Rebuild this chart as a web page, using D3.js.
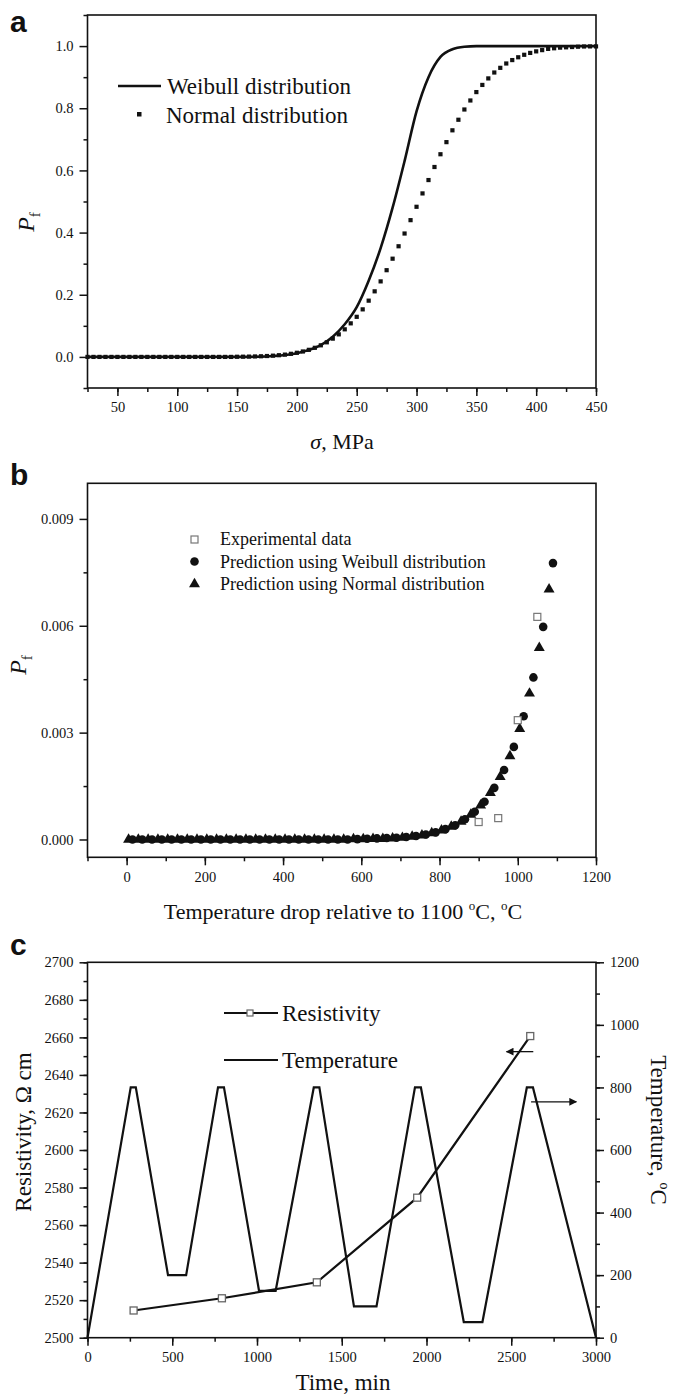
<!DOCTYPE html>
<html>
<head>
<meta charset="utf-8">
<script src="https://cdn.jsdelivr.net/npm/d3@7"></script>
<style>
  body { margin: 0; background: #fff; }
  text { font-family: "Liberation Serif", "Times New Roman", serif; fill: #111; }
  .panel-letter { font-family: "Liberation Sans", Arial, sans-serif; font-weight: bold; font-size: 30px; }
</style>
</head>
<body>
<svg id="fig" width="675" height="1396"></svg>
<script>
// ---- panel a: failure probability vs stress
const sigmaWeibull = [25, 150, 170, 180, 190, 200, 210, 220, 230, 240, 250, 260, 270, 280, 290, 300, 310, 320, 330, 340, 350, 360, 450]
const pfWeibull    = [0, 0, 0.001, 0.003, 0.006, 0.012, 0.022, 0.038, 0.065, 0.105, 0.16, 0.245, 0.35, 0.48, 0.63, 0.79, 0.90, 0.965, 0.99, 0.998, 1.0, 1.0, 1.0]

const sigmaNormal = [25, 30, 35, 40, 45, 50, 55, 60, 65, 70, 75, 80, 85, 90, 95, 100, 105, 110, 115, 120, 125, 130, 135, 140, 145,
  150, 155, 160, 165, 170, 175, 180, 185, 190, 195, 200, 205, 210, 215, 220, 225, 230, 235, 240, 245, 250, 255, 260, 265, 270, 275,
  280, 285, 290, 295, 300, 305, 310, 315, 320, 325, 330, 335, 340, 345, 350, 355, 360, 365, 370, 375, 380, 385, 390, 395, 400,
  405, 410, 415, 420, 425, 430, 435, 440, 445, 450]
const pfNormal = [0, 0, 0, 0, 0, 0, 0, 0, 0, 0, 0, 0, 0, 0, 0, 0, 0, 0, 0, 0, 0, 0, 0, 0, 0,
  0.0005, 0.0007, 0.001, 0.0015, 0.0021, 0.0029, 0.004, 0.0055, 0.0074, 0.010, 0.0133, 0.0175, 0.0228, 0.0293, 0.0373, 0.047,
  0.0588, 0.0726, 0.0888, 0.108, 0.129, 0.153, 0.181, 0.211, 0.243, 0.279, 0.316, 0.356, 0.397, 0.440, 0.483, 0.526, 0.569,
  0.611, 0.652, 0.691, 0.729, 0.763, 0.796, 0.825, 0.852, 0.875, 0.896, 0.915, 0.930, 0.944, 0.955, 0.964, 0.972, 0.978,
  0.983, 0.987, 0.991, 0.993, 0.995, 0.996, 0.997, 0.998, 0.9987, 0.999, 0.999]

// ---- panel b: Pf vs temperature drop
const dropExp = [900, 950, 1000, 1050]
const pfExp   = [0.00049, 0.0006, 0.00335, 0.00625]

const dropWeibull = [15, 40, 65, 90, 115, 140, 165, 190, 215, 240, 265, 290, 315, 340, 365, 390, 415, 440, 465, 490, 515, 540, 565,
  590, 615, 640, 665, 690, 715, 740, 765, 790, 815, 840, 865, 890, 915, 940, 965, 990, 1015, 1040, 1065, 1090]
const pfPredWeibull = [0, 0, 0, 0, 0, 0, 0, 0, 0, 0, 0, 0, 0, 0, 0, 0, 0, 0, 0, 0, 0, 0, 0,
  0.00001, 0.00002, 0.00003, 0.00004, 0.00005, 0.00007, 0.0001, 0.00014, 0.0002, 0.00029, 0.0004, 0.00057, 0.00078,
  0.00106, 0.00145, 0.00195, 0.0026, 0.00346, 0.00455, 0.00597, 0.00776]

const dropNormal = [5, 30, 55, 80, 105, 130, 155, 180, 205, 230, 255, 280, 305, 330, 355, 380, 405, 430, 455, 480, 505, 530, 555,
  580, 605, 630, 655, 680, 705, 730, 755, 780, 805, 830, 855, 880, 905, 930, 955, 980, 1005, 1030, 1055, 1080]
const pfPredNormal = [0, 0, 0, 0, 0, 0, 0, 0, 0, 0, 0, 0, 0, 0, 0, 0, 0, 0, 0, 0, 0, 0, 0,
  0.00001, 0.00001, 0.00002, 0.00002, 0.00003, 0.00005, 0.00008, 0.00012, 0.00018, 0.00026, 0.00036, 0.0005, 0.0007,
  0.00096, 0.00131, 0.00176, 0.00234, 0.00311, 0.0041, 0.00538, 0.00702]

// ---- panel c: resistivity and temperature vs time
const timeRes = [272, 793, 1353, 1945, 2612]
const resistivity = [2514.5, 2521, 2529.5, 2574.6, 2660.7]

const timeTemp = [0, 255, 285, 475, 582, 770, 805, 1012, 1110, 1335, 1368, 1572, 1705, 1932, 1967, 2220, 2330, 2592, 2628, 3000]
const temperature = [0, 800, 800, 200, 200, 800, 800, 150, 150, 800, 800, 100, 100, 800, 800, 50, 50, 800, 800, 0]

const svg = d3.select('#fig')
const ink = '#111'
const serif = '"Liberation Serif", "Times New Roman", serif'

function frame(x, y) {
  svg.append('rect')
    .attr('x', x.range()[0]).attr('y', y.range()[1])
    .attr('width', x.range()[1] - x.range()[0])
    .attr('height', y.range()[0] - y.range()[1])
    .attr('fill', 'none').attr('stroke', ink).attr('stroke-width', 1.6)
}

function axis(gen, pos, major, minor, fmt) {
  let g = svg.append('g').attr('transform', pos)
  g.call(gen.tickValues(minor).tickSize(4).tickFormat(''))
  g.selectAll('.domain').remove()
  let g2 = svg.append('g').attr('transform', pos)
  g2.call(gen.tickValues(major).tickSize(8).tickPadding(6).tickFormat(fmt))
  g2.selectAll('.domain').remove()
  g2.attr('font-family', serif).attr('font-size', 14.5)
  g2.selectAll('.tick text').style('font-family', serif).style('font-size', '14.5px').attr('fill', ink)
  svg.selectAll('.tick line').attr('stroke', ink).attr('stroke-width', 1.5)
  return g2
}

function pfLabel(cx, cy) {
  let t = svg.append('text')
    .attr('transform', `translate(${cx},${cy}) rotate(-90)`)
    .attr('text-anchor', 'middle')
    .style('font-size', '24px')
  t.append('tspan').style('font-style', 'italic').text('P')
  t.append('tspan').attr('dy', 6).style('font-size', '15px').text('f')
}

// ================= panel a =================
let xa = d3.scaleLinear().domain([25, 450]).range([87.5, 596])
let ya = d3.scaleLinear().domain([-0.1, 1.1]).range([388, 15])

axis(d3.axisBottom(xa), `translate(0,${ya.range()[0]})`, d3.range(50, 451, 50), d3.range(25, 451, 25), d3.format('d'))
axis(d3.axisLeft(ya), `translate(${xa.range()[0]},0)`, [0, 0.2, 0.4, 0.6, 0.8, 1.0], [-0.1, 0.1, 0.3, 0.5, 0.7, 0.9, 1.1], d3.format('.1f'))
frame(xa, ya)

let weibullA = sigmaWeibull.map((s, i) => [s, pfWeibull[i]])
svg.append('path')
  .datum(weibullA)
  .attr('fill', 'none').attr('stroke', ink).attr('stroke-width', 2.6)
  .attr('d', d3.line().x(d => xa(d[0])).y(d => ya(d[1])).curve(d3.curveMonotoneX))

svg.append('g').selectAll('rect')
  .data(sigmaNormal.map((s, i) => [s, pfNormal[i]]))
  .join('rect')
  .attr('x', d => xa(d[0]) - 2.1).attr('y', d => ya(d[1]) - 2.1)
  .attr('width', 4.2).attr('height', 4.2).attr('fill', ink)

// legend a
svg.append('line').attr('x1', 118).attr('x2', 161).attr('y1', 86).attr('y2', 86)
  .attr('stroke', ink).attr('stroke-width', 2.6)
svg.append('text').attr('x', 167).attr('y', 94).style('font-size', '23px').text('Weibull distribution')
svg.append('rect').attr('x', 137).attr('y', 112).attr('width', 4.5).attr('height', 4.5).attr('fill', ink)
svg.append('text').attr('x', 166).attr('y', 123).style('font-size', '23px').text('Normal distribution')

pfLabel(34, 222)
let xlabA = svg.append('text').attr('x', 342).attr('y', 449).attr('text-anchor', 'middle').style('font-size', '22px')
xlabA.append('tspan').style('font-style', 'italic').text('σ')
xlabA.append('tspan').text(', MPa')
svg.append('text').attr('class', 'panel-letter').attr('x', 10).attr('y', 32).text('a')

// ================= panel b =================
let xb = d3.scaleLinear().domain([-100, 1200]).range([87.5, 596])
let yb = d3.scaleLinear().domain([-0.0005, 0.010]).range([857.3, 483.3])

axis(d3.axisBottom(xb), `translate(0,${yb.range()[0]})`, d3.range(0, 1201, 200), d3.range(-100, 1201, 100), d3.format('d'))
axis(d3.axisLeft(yb), `translate(${xb.range()[0]},0)`, [0, 0.003, 0.006, 0.009], [0.0015, 0.0045, 0.0075], d3.format('.3f'))
frame(xb, yb)

let triangle = d3.symbol().type(d3.symbolTriangle).size(52)
svg.append('g').selectAll('path')
  .data(dropNormal.map((t, i) => [t, pfPredNormal[i]]))
  .join('path')
  .attr('transform', d => `translate(${xb(d[0])},${yb(d[1])})`)
  .attr('d', triangle).attr('fill', ink)

svg.append('g').selectAll('circle')
  .data(dropWeibull.map((t, i) => [t, pfPredWeibull[i]]))
  .join('circle')
  .attr('cx', d => xb(d[0])).attr('cy', d => yb(d[1])).attr('r', 4.3).attr('fill', ink)

svg.append('g').selectAll('rect')
  .data(dropExp.map((t, i) => [t, pfExp[i]]))
  .join('rect')
  .attr('x', d => xb(d[0]) - 3.5).attr('y', d => yb(d[1]) - 3.5)
  .attr('width', 7).attr('height', 7)
  .attr('fill', '#fff').attr('stroke', '#777').attr('stroke-width', 1.2)

// legend b
svg.append('rect').attr('x', 191).attr('y', 536).attr('width', 7).attr('height', 7)
  .attr('fill', '#fff').attr('stroke', '#777').attr('stroke-width', 1.2)
svg.append('circle').attr('cx', 194.5).attr('cy', 561.5).attr('r', 4.3).attr('fill', ink)
svg.append('path').attr('transform', 'translate(194.5,584)').attr('d', triangle).attr('fill', ink)
let legB = ['Experimental data', 'Prediction using Weibull distribution', 'Prediction using Normal distribution']
legB.forEach((s, i) => {
  svg.append('text').attr('x', 220).attr('y', 545 + i * 22.6).style('font-size', '18px').text(s)
})

pfLabel(26, 665)
let xlabB = svg.append('text').attr('x', 343).attr('y', 919).attr('text-anchor', 'middle').style('font-size', '22px')
xlabB.append('tspan').text('Temperature drop relative to 1100 ')
xlabB.append('tspan').attr('dy', -9).style('font-size', '13px').text('o')
xlabB.append('tspan').attr('dy', 9).text('C, ')
xlabB.append('tspan').attr('dy', -9).style('font-size', '13px').text('o')
xlabB.append('tspan').attr('dy', 9).text('C')
svg.append('text').attr('class', 'panel-letter').attr('x', 10).attr('y', 485).text('b')

// ================= panel c =================
let xc = d3.scaleLinear().domain([0, 3000]).range([87.5, 596])
let yl = d3.scaleLinear().domain([2500, 2700]).range([1337.7, 962.3])
let yr = d3.scaleLinear().domain([0, 1200]).range([1337.7, 962.3])

axis(d3.axisBottom(xc), `translate(0,${yl.range()[0]})`, d3.range(0, 3001, 500), d3.range(0, 3001, 250), d3.format('d'))
axis(d3.axisLeft(yl), `translate(${xc.range()[0]},0)`, d3.range(2500, 2701, 20), d3.range(2500, 2701, 10), d3.format('d'))
axis(d3.axisRight(yr), `translate(${xc.range()[1]},0)`, d3.range(0, 1201, 200), d3.range(0, 1201, 100), d3.format('d'))
frame(xc, yl)

svg.append('path')
  .datum(timeTemp.map((t, i) => [t, temperature[i]]))
  .attr('fill', 'none').attr('stroke', ink).attr('stroke-width', 2.2)
  .attr('d', d3.line().x(d => xc(d[0])).y(d => yr(d[1])))

let resPts = timeRes.map((t, i) => [t, resistivity[i]])
svg.append('path')
  .datum(resPts)
  .attr('fill', 'none').attr('stroke', ink).attr('stroke-width', 2.2)
  .attr('d', d3.line().x(d => xc(d[0])).y(d => yl(d[1])))
svg.append('g').selectAll('rect')
  .data(resPts)
  .join('rect')
  .attr('x', d => xc(d[0]) - 3.5).attr('y', d => yl(d[1]) - 3.5)
  .attr('width', 7).attr('height', 7)
  .attr('fill', '#fff').attr('stroke', '#666').attr('stroke-width', 1.3)

// arrows pointing to the axis each curve belongs to
svg.append('defs').append('marker')
  .attr('id', 'head').attr('viewBox', '0 0 10 10').attr('refX', 9).attr('refY', 5)
  .attr('markerWidth', 8).attr('markerHeight', 6).attr('orient', 'auto')
  .append('path').attr('d', 'M0,0 L10,5 L0,10 Z').attr('fill', ink)
svg.append('line')
  .attr('x1', xc(2630)).attr('x2', xc(2472)).attr('y1', yl(2652.4)).attr('y2', yl(2652.4))
  .attr('stroke', ink).attr('stroke-width', 1.3).attr('marker-end', 'url(#head)')
svg.append('line')
  .attr('x1', xc(2617)).attr('x2', xc(2884)).attr('y1', yr(754)).attr('y2', yr(754))
  .attr('stroke', ink).attr('stroke-width', 1.3).attr('marker-end', 'url(#head)')

// legend c
svg.append('line').attr('x1', 224).attr('x2', 278).attr('y1', 1013).attr('y2', 1013).attr('stroke', ink).attr('stroke-width', 2.2)
svg.append('rect').attr('x', 247).attr('y', 1010).attr('width', 6).attr('height', 6)
  .attr('fill', '#fff').attr('stroke', '#666').attr('stroke-width', 1.2)
svg.append('text').attr('x', 282).attr('y', 1021).style('font-size', '23px').text('Resistivity')
svg.append('line').attr('x1', 224).attr('x2', 278).attr('y1', 1060).attr('y2', 1060).attr('stroke', ink).attr('stroke-width', 2.2)
svg.append('text').attr('x', 282).attr('y', 1068).style('font-size', '23px').text('Temperature')

svg.append('text')
  .attr('transform', 'translate(31,1132) rotate(-90)')
  .attr('text-anchor', 'middle').style('font-size', '23px').text('Resistivity, Ω cm')
let ylabR = svg.append('text')
  .attr('transform', 'translate(651,1130) rotate(90)')
  .attr('text-anchor', 'middle').style('font-size', '23px')
ylabR.append('tspan').text('Temperature, ')
ylabR.append('tspan').attr('dy', -9).style('font-size', '14px').text('o')
ylabR.append('tspan').attr('dy', 9).text('C')
svg.append('text').attr('x', 343).attr('y', 1390).attr('text-anchor', 'middle').style('font-size', '23px').text('Time, min')
svg.append('text').attr('class', 'panel-letter').attr('x', 10).attr('y', 955).text('c')
</script>
</body>
</html>
